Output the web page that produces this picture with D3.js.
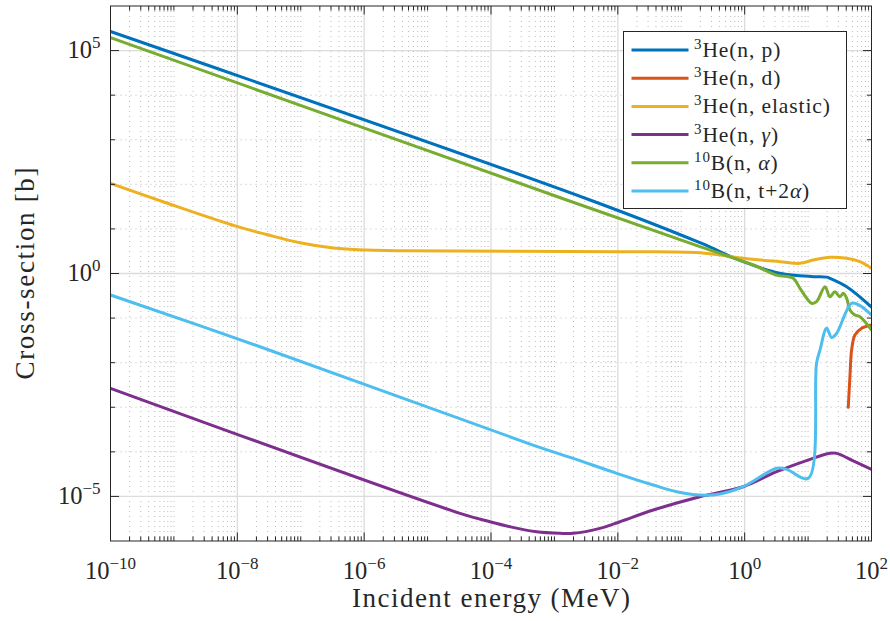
<!DOCTYPE html>
<html>
<head>
<meta charset="utf-8">
<script src="https://cdn.jsdelivr.net/npm/d3@7"></script>
<style>
  body { margin: 0; background: #fff; }
  text { font-family: "Liberation Serif", "Times New Roman", serif; fill: #262626; }
</style>
</head>
<body>
<svg id="chart" width="890" height="621"></svg>
<script>
// Neutron cross-sections, energy in MeV and cross-section in barns
const he3_np = [[1e-10, 2.68e5], [3.64e-3, 44.5], [0.197, 4.9], [0.95, 1.84],
  [3.6, 1.01], [12.1, 0.85], [19.6, 0.83], [22.1, 0.78], [40.6, 0.505], [100, 0.177]];
const he3_nd = [[43.0, 9.95e-4], [45.7, 4.84e-3], [48.6, 0.0192], [54.8, 0.0417], [70, 0.0589], [100, 0.0699]];
const he3_elastic = [[1e-10, 105], [7.69e-10, 38.1], [9.8e-9, 11.4], [2.9e-8, 7.48], [9.7e-8, 4.88],
  [3.26e-7, 3.73], [1.1e-6, 3.36], [3.67e-6, 3.24], [0.0108, 3.08],
  [0.197, 2.92], [0.95, 2.19], [3.6, 1.84], [7.45, 1.69], [12.1, 2.0], [22.1, 2.31], [40.6, 2.19],
  [65.8, 1.84], [100, 1.31]];
const he3_ngamma = [[1e-10, 2.66e-3], [3.24e-5, 4.17e-6], [9.6e-5, 2.7e-6],
  [1.99e-4, 2.09e-6], [5.25e-4, 1.61e-6], [1.22e-3, 1.49e-6], [1.98e-3, 1.49e-6], [5.22e-3, 1.92e-6],
  [0.0108, 2.7e-6], [0.0362, 4.95e-6], [0.197, 9.84e-6], [0.95, 1.65e-5], [3.2, 3.58e-5],
  [10.7, 6.79e-5], [22.1, 9.25e-5], [28.2, 9.25e-5], [51.5, 6.3e-5], [100, 4.05e-5]];
const b10_nalpha = [[1e-10, 1.95e5], [1.56e-3, 44.5], [0.197, 3.99], [1.37, 1.55],
  [3.2, 0.92], [5.84, 0.78], [7.45, 0.466], [11.4, 0.214], [13.6, 0.233], [18.5, 0.505], [22.1, 0.301],
  [26.5, 0.39], [31.8, 0.301], [35.9, 0.359], [40.6, 0.277], [45.7, 0.152], [54.8, 0.117],
  [65.8, 0.107], [100, 0.054]];
const b10_nt2alpha = [[1e-10, 0.329], [2.28e-8, 0.0228],
  [4.59e-4, 1.42e-4], [1.98e-3, 7.14e-5], [9.6e-3, 3.3e-5], [0.0362, 1.8e-5], [0.0848, 1.27e-5],
  [0.197, 1.07e-5], [0.408, 1.13e-5], [0.94, 1.65e-5], [3.2, 4.27e-5], [4.59, 4.05e-5],
  [10.07, 2.55e-5], [13.6, 9.66e-3], [15.4, 0.0192], [19.6, 0.0589], [23.5, 0.0366],
  [28.2, 0.0455], [48.6, 0.214], [65.8, 0.191], [100, 0.117]];

const seriesData = [he3_np, he3_nd, he3_elastic, he3_ngamma, b10_nalpha, b10_nt2alpha];
const seriesColors = ["#0072BD", "#D95319", "#EDB120", "#7E2F8E", "#77AC30", "#4DBEEE"];
// legend entries: [superscript mass number, element, reaction (plain / italic greek parts)]
const seriesLabels = [
  ["3", "He", [["(n, p)", false]]],
  ["3", "He", [["(n, d)", false]]],
  ["3", "He", [["(n, elastic)", false]]],
  ["3", "He", [["(n, ", false], ["γ", true], [")", false]]],
  ["10", "B", [["(n, ", false], ["α", true], [")", false]]],
  ["10", "B", [["(n, t+2", false], ["α", true], [")", false]]]
];

const xTickExponents = [-10, -8, -6, -4, -2, 0, 2];
const yTickExponents = [-5, 0, 5];
const xDomain = [1e-10, 1e2];
const yDomain = [1e-6, 1e6];
const xLabel = "Incident energy (MeV)";
const yLabel = "Cross-section [b]";

const plot = { left: 110.5, right: 871.5, top: 6, bottom: 541 };
const svg = d3.select("#chart");

const x = d3.scaleLog().domain(xDomain).range([plot.left, plot.right]);
const y = d3.scaleLog().domain(yDomain).range([plot.bottom, plot.top]);

// grid positions
const xMajor = xTickExponents.map(e => Math.pow(10, e));
const xMinor = [];
for (let d = -10; d < 2; d++) {
  if (!xTickExponents.includes(d)) xMinor.push(Math.pow(10, d));
  for (let k = 2; k <= 9; k++) xMinor.push(k * Math.pow(10, d));
}
const yMajor = yTickExponents.map(e => Math.pow(10, e));
const yMinor = [];
for (let d = -5; d <= 5; d++) if (!yTickExponents.includes(d)) yMinor.push(Math.pow(10, d));

const grid = svg.append("g");
grid.selectAll(".xmin").data(xMinor).join("line")
  .attr("x1", d => x(d)).attr("x2", d => x(d))
  .attr("y1", plot.top).attr("y2", plot.bottom)
  .attr("stroke", "#b4b4b4").attr("stroke-width", 0.9).attr("stroke-dasharray", "1,4");
grid.selectAll(".ymin").data(yMinor).join("line")
  .attr("y1", d => y(d)).attr("y2", d => y(d))
  .attr("x1", plot.left).attr("x2", plot.right)
  .attr("stroke", "#b4b4b4").attr("stroke-width", 0.9).attr("stroke-dasharray", "1,4");
grid.selectAll(".xmaj").data(xMajor.slice(1, -1)).join("line")
  .attr("x1", d => x(d)).attr("x2", d => x(d))
  .attr("y1", plot.top).attr("y2", plot.bottom)
  .attr("stroke", "#dcdcdc").attr("stroke-width", 1.3);
grid.selectAll(".ymaj").data(yMajor).join("line")
  .attr("y1", d => y(d)).attr("y2", d => y(d))
  .attr("x1", plot.left).attr("x2", plot.right)
  .attr("stroke", "#dcdcdc").attr("stroke-width", 1.3);

// curves
svg.append("clipPath").attr("id", "plotclip").append("rect")
  .attr("x", plot.left).attr("y", plot.top)
  .attr("width", plot.right - plot.left).attr("height", plot.bottom - plot.top);

const line = d3.line().x(d => x(d[0])).y(d => y(d[1])).curve(d3.curveCatmullRom.alpha(0.5));
const curves = svg.append("g").attr("clip-path", "url(#plotclip)");
seriesData.forEach((s, i) => {
  curves.append("path").datum(s)
    .attr("d", line).attr("fill", "none")
    .attr("stroke", seriesColors[i]).attr("stroke-width", 3)
    .attr("stroke-linejoin", "round").attr("stroke-linecap", "round");
});

// axes box and ticks
const axisColor = "#262626";
const axes = svg.append("g").attr("stroke", axisColor).attr("stroke-width", 1);
axes.append("rect").attr("x", plot.left).attr("y", plot.top)
  .attr("width", plot.right - plot.left).attr("height", plot.bottom - plot.top).attr("fill", "none");

function xTicks(vals, len) {
  vals.forEach(v => {
    axes.append("line").attr("x1", x(v)).attr("x2", x(v)).attr("y1", plot.bottom).attr("y2", plot.bottom - len);
    axes.append("line").attr("x1", x(v)).attr("x2", x(v)).attr("y1", plot.top).attr("y2", plot.top + len);
  });
}
function yTicks(vals, len) {
  vals.forEach(v => {
    axes.append("line").attr("y1", y(v)).attr("y2", y(v)).attr("x1", plot.left).attr("x2", plot.left + len);
    axes.append("line").attr("y1", y(v)).attr("y2", y(v)).attr("x1", plot.right).attr("x2", plot.right - len);
  });
}
xTicks(xMinor, 4.5);
xTicks(xMajor, 8.5);
yTicks(yMinor, 4.5);
yTicks(yMajor, 8.5);

// tick labels: 10 with superscript exponent
function expText(e) { return e < 0 ? "\u2212" + Math.abs(e) : String(e); }

xTickExponents.forEach(e => {
  const t = svg.append("text").attr("x", x(Math.pow(10, e))).attr("y", 579)
    .attr("text-anchor", "middle").attr("font-size", 24.5);
  t.append("tspan").text("10");
  t.append("tspan").attr("dy", -10).attr("font-size", 17).text(expText(e));
});
yTickExponents.forEach(e => {
  const t = svg.append("text").attr("x", 100.5).attr("y", y(Math.pow(10, e)) + 7.5)
    .attr("text-anchor", "end").attr("font-size", 24.5);
  t.append("tspan").text("10");
  t.append("tspan").attr("dy", -10).attr("font-size", 17).text(expText(e));
});

// axis labels
svg.append("text").attr("x", (plot.left + plot.right) / 2).attr("y", 607)
  .attr("text-anchor", "middle").attr("font-size", 27)
  .attr("textLength", 278).attr("lengthAdjust", "spacing").text(xLabel);
svg.append("text").attr("transform", `translate(33.5,${(plot.top + plot.bottom) / 2}) rotate(-90)`)
  .attr("text-anchor", "middle").attr("font-size", 27)
  .attr("textLength", 212).attr("lengthAdjust", "spacing").text(yLabel);

// legend
const legend = svg.append("g");
const lg = { x: 623.5, y: 31.5, w: 223, h: 177, row0: 50, step: 28.2 };
legend.append("rect").attr("x", lg.x).attr("y", lg.y).attr("width", lg.w).attr("height", lg.h)
  .attr("fill", "#fff").attr("stroke", axisColor).attr("stroke-width", 1);
seriesLabels.forEach((lab, i) => {
  const ry = lg.row0 + i * lg.step;
  legend.append("line").attr("x1", 631.5).attr("x2", 688.5).attr("y1", ry).attr("y2", ry)
    .attr("stroke", seriesColors[i]).attr("stroke-width", 3);
  const t = legend.append("text").attr("x", 694).attr("y", ry + 7)
    .attr("font-size", 21.5).attr("letter-spacing", 0.9);
  t.append("tspan").attr("dy", -8).attr("font-size", 15).text(lab[0]);
  t.append("tspan").attr("dy", 8).text(lab[1]);
  lab[2].forEach(part => {
    const sp = t.append("tspan").text(part[0]);
    if (part[1]) sp.attr("font-style", "italic");
  });
});
</script>
</body>
</html>
